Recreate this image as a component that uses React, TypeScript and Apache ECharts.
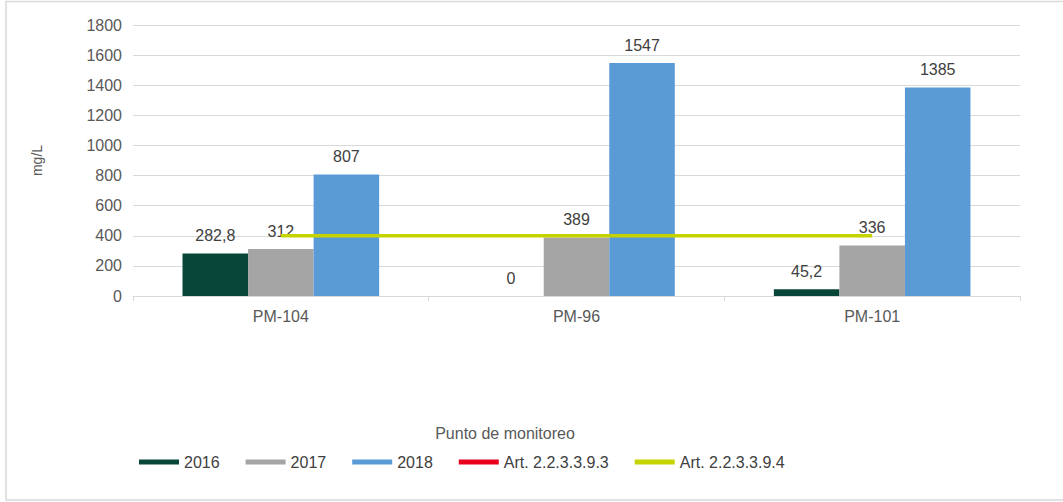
import React, { useEffect, useRef } from "react";
import * as echarts from "echarts";

// Monitoring points and measured values (mg/L) per year
const categories = ["PM-104", "PM-96", "PM-101"];
const values2016 = [282.8, 0, 45.2];
const values2017 = [312, 389, 336];
const values2018 = [807, 1547, 1385];
// Reference limits
const limitArt9393: (number | null)[] = [];
const limitArt9394 = [400, 400, 400];

const yTicks = { min: 0, max: 1800, interval: 200 };

const FONT = "Liberation Sans, Arial, sans-serif";
const fmt = (v: number) => String(v).replace(".", ",");

export default function App() {
  const ref = useRef<HTMLDivElement>(null);

  useEffect(() => {
    document.body.style.margin = "0";
    const chart = echarts.init(ref.current!, null, { renderer: "svg" });

    const barLabel = {
      show: true,
      position: "top" as const,
      distance: 10,
      color: "#404040",
      fontSize: 16,
      fontFamily: FONT,
      formatter: (p: any) => fmt(p.value),
    };

    chart.setOption({
      animation: false,
      backgroundColor: "#ffffff",
      textStyle: { fontFamily: FONT },
      grid: { left: 133, right: 43, top: 25, bottom: 206 },
      xAxis: {
        type: "category",
        data: categories,
        boundaryGap: true,
        axisLine: { lineStyle: { color: "#d9d9d9", width: 1 } },
        axisTick: { show: true, length: 5, lineStyle: { color: "#d9d9d9" } },
        axisLabel: { color: "#595959", fontSize: 16, fontFamily: FONT, margin: 12 },
      },
      yAxis: {
        type: "value",
        min: yTicks.min,
        max: yTicks.max,
        interval: yTicks.interval,
        name: "mg/L",
        nameLocation: "middle",
        nameRotate: 90,
        nameGap: 89,
        nameTextStyle: { color: "#595959", fontSize: 14, fontFamily: FONT },
        axisLine: { show: false },
        axisTick: { show: false },
        axisLabel: {
          color: "#595959",
          fontSize: 16,
          fontFamily: FONT,
          margin: 11,
          formatter: (v: number) => String(v),
        },
        splitLine: { lineStyle: { color: "#d9d9d9", width: 1 } },
      },
      legend: {
        left: 134,
        top: 449,
        itemWidth: 40,
        itemHeight: 5,
        itemGap: 26,
        textStyle: { color: "#404040", fontSize: 16, fontFamily: FONT },
        data: [
          { name: "2016", icon: "rect" },
          { name: "2017", icon: "rect" },
          { name: "2018", icon: "rect" },
          { name: "Art. 2.2.3.3.9.3", icon: "rect" },
          { name: "Art. 2.2.3.3.9.4", icon: "rect" },
        ],
      },
      graphic: [
        {
          type: "rect",
          silent: true,
          shape: { x: 6, y: 1.5, width: 1100, height: 498.5 },
          style: { fill: "none", stroke: "#d9d9d9", lineWidth: 1.5 },
        },
        {
          type: "text",
          silent: true,
          x: 505,
          y: 433,
          style: {
            text: "Punto de monitoreo",
            fill: "#595959",
            fontSize: 16,
            fontFamily: FONT,
            align: "center",
            verticalAlign: "middle",
          },
        },
      ],
      series: [
        {
          name: "2016",
          type: "bar",
          data: values2016,
          barGap: "0%",
          barCategoryGap: "33.5%",
          itemStyle: { color: "#08463a" },
          label: barLabel,
        },
        {
          name: "2017",
          type: "bar",
          data: values2017,
          itemStyle: { color: "#a5a5a5" },
          label: barLabel,
        },
        {
          name: "2018",
          type: "bar",
          data: values2018,
          itemStyle: { color: "#5b9bd5" },
          label: barLabel,
        },
        {
          name: "Art. 2.2.3.3.9.3",
          type: "line",
          data: limitArt9393,
          symbol: "none",
          itemStyle: { color: "#e8001c" },
          lineStyle: { color: "#e8001c", width: 3.5 },
        },
        {
          name: "Art. 2.2.3.3.9.4",
          type: "line",
          data: limitArt9394,
          symbol: "none",
          z: 5,
          itemStyle: { color: "#c5d400" },
          lineStyle: { color: "#c5d400", width: 3.5 },
        },
      ],
    });

    return () => chart.dispose();
  }, []);

  return <div ref={ref} style={{ width: 1063, height: 502 }} />;
}
